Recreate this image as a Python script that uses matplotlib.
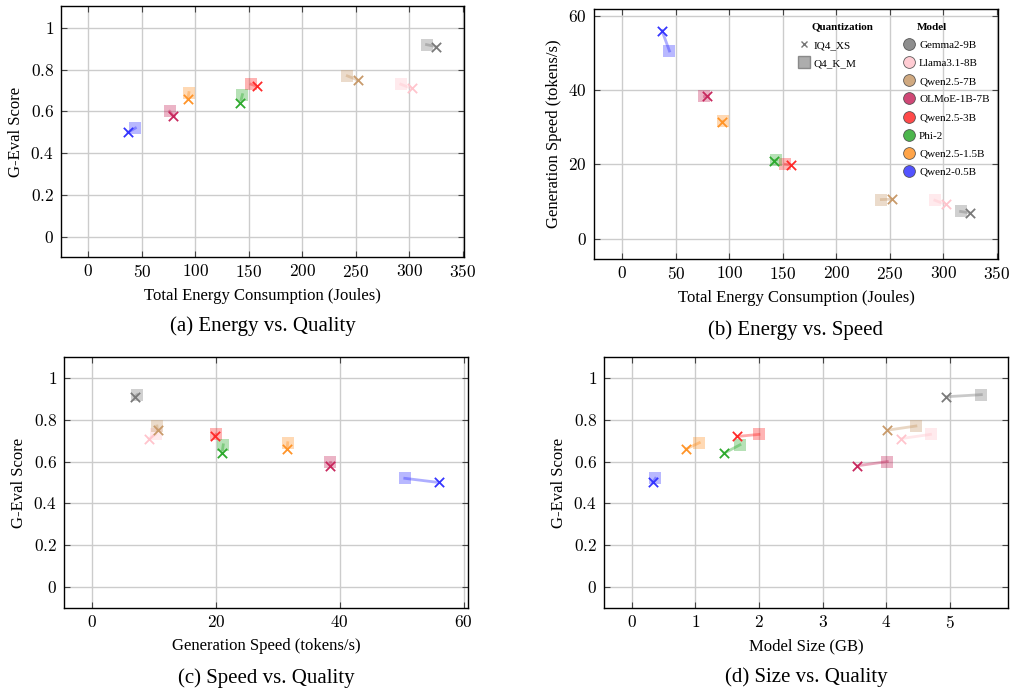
import matplotlib
matplotlib.use("Agg")
import matplotlib.pyplot as plt
from matplotlib.lines import Line2D

plt.rcParams['font.family'] = ['Liberation Serif', 'DejaVu Serif']
plt.rcParams['mathtext.fontset'] = 'cm'

models = ["Gemma2-9B", "Llama3.1-8B", "Qwen2.5-7B", "OLMoE-1B-7B",
          "Qwen2.5-3B", "Phi-2", "Qwen2.5-1.5B", "Qwen2-0.5B"]
colors = ["#7a7a7a", "#ffc4cc", "#c89a6a", "#c8285e",
          "#ff2a2a", "#2eaa2e", "#ff9428", "#3535ff"]

# IQ4_XS values
energy_xs = [325, 302, 252, 79, 158, 142, 93, 37]
speed_xs = [6.9, 9.2, 10.6, 38.5, 19.8, 21.0, 31.5, 56.0]
quality_xs = [0.91, 0.71, 0.75, 0.58, 0.72, 0.64, 0.66, 0.50]
size_xs = [4.95, 4.24, 4.02, 3.55, 1.65, 1.45, 0.85, 0.33]

# Q4_K_M values
energy_km = [316, 292, 242, 76, 152, 144, 94, 44]
speed_km = [7.3, 10.3, 10.5, 38.5, 20.0, 21.2, 31.6, 50.5]
quality_km = [0.92, 0.73, 0.77, 0.60, 0.73, 0.68, 0.69, 0.52]
size_km = [5.50, 4.70, 4.47, 4.02, 2.00, 1.70, 1.06, 0.37]

fig = plt.figure(figsize=(10.16, 6.95), dpi=100)
W, H = 1016, 695


def add_axes(l, r, t, b):
    return fig.add_axes([l / W, 1 - b / H, (r - l) / W, (b - t) / H])


def style(ax, xticks, yticks, xlim, ylim, xlabel, ylabel, caption, cap_y):
    ax.set_xlim(*xlim)
    ax.set_ylim(*ylim)
    ax.set_xticks(xticks)
    ax.set_yticks(yticks)
    ax.set_xticklabels(["$%g$" % v for v in xticks], fontsize=12.5)
    ax.set_yticklabels(["$%g$" % v for v in yticks], fontsize=12.5)
    ax.grid(True, color="#cccccc", linewidth=1.0)
    ax.set_axisbelow(True)
    ax.tick_params(direction="in", length=4, width=0.8, color="#444444",
                   top=True, right=True, pad=5)
    for sp in ax.spines.values():
        sp.set_linewidth(1.0)
    ax.set_xlabel(xlabel, fontsize=12, labelpad=5)
    ax.set_ylabel(ylabel, fontsize=12, labelpad=5)
    pos = ax.get_position()
    fig.text(pos.x0 + pos.width / 2, cap_y, caption, ha="center",
             va="center", fontsize=15)


def draw(ax, x_xs, y_xs, x_km, y_km):
    for i in range(len(models)):
        ax.plot([x_km[i], x_xs[i]], [y_km[i], y_xs[i]], color=colors[i],
                alpha=0.4, linewidth=2, zorder=2)
        ax.scatter(x_km[i], y_km[i], marker="s", s=65, color=colors[i],
                   alpha=0.35, linewidths=0, zorder=3)
        ax.scatter(x_xs[i], y_xs[i], marker="x", s=45, color=colors[i],
                   linewidths=1.3, zorder=4)


# (a) Energy vs. Quality
ax = add_axes(61, 464, 6, 257)
draw(ax, energy_xs, quality_xs, energy_km, quality_km)
style(ax, [0, 50, 100, 150, 200, 250, 300, 350], [0, 0.2, 0.4, 0.6, 0.8, 1],
      (-25.5, 351), (-0.098, 1.105), "Total Energy Consumption (Joules)",
      "G-Eval Score", "(a) Energy vs. Quality", 1 - 326 / H)

# (b) Energy vs. Speed
ax = add_axes(594, 998, 9, 259)
draw(ax, energy_xs, speed_xs, energy_km, speed_km)
style(ax, [0, 50, 100, 150, 200, 250, 300, 350], [0, 20, 40, 60],
      (-26.5, 351), (-5.5, 61.8), "Total Energy Consumption (Joules)",
      "Generation Speed (tokens/s)", "(b) Energy vs. Speed", 1 - 330 / H)

quant_handles = [
    Line2D([], [], marker="x", linestyle="none", color="#777777",
           markersize=4.5, markeredgewidth=1.0, label="IQ4_XS"),
    Line2D([], [], marker="s", linestyle="none", color="#999999",
           markeredgecolor="#777777", markersize=8, alpha=0.8, label="Q4_K_M"),
]
model_handles = [
    Line2D([], [], marker="o", linestyle="none", markerfacecolor=c,
           markeredgecolor="#444444", markeredgewidth=0.6, markersize=8.5,
           alpha=0.85, label=m)
    for m, c in zip(models, colors)
]
ax.text((812 - 594) / 404, 1 - (27 - 9) / 250, "Quantization",
        transform=ax.transAxes, fontsize=8, fontweight="bold",
        ha="left", va="center")
ax.text((917 - 594) / 404, 1 - (27 - 9) / 250, "Model",
        transform=ax.transAxes, fontsize=8, fontweight="bold",
        ha="left", va="center")
leg1 = ax.legend(handles=quant_handles, frameon=False, fontsize=8,
                 loc="upper left", bbox_to_anchor=(0.495, 0.893),
                 handletextpad=0.4, labelspacing=0.75, handlelength=1.0,
                 borderaxespad=0)
ax.add_artist(leg1)
ax.legend(handles=model_handles, frameon=False, fontsize=8,
          loc="upper left", bbox_to_anchor=(0.755, 0.893),
          handletextpad=0.4, labelspacing=0.75, handlelength=1.0,
          borderaxespad=0)

# (c) Speed vs. Quality
ax = add_axes(64, 468, 357, 608)
draw(ax, speed_xs, quality_xs, speed_km, quality_km)
style(ax, [0, 20, 40, 60], [0, 0.2, 0.4, 0.6, 0.8, 1],
      (-4.5, 60.7), (-0.1, 1.1), "Generation Speed (tokens/s)",
      "G-Eval Score", "(c) Speed vs. Quality", 1 - 678 / H)

# (d) Size vs. Quality
ax = add_axes(604, 1008, 357, 608)
draw(ax, size_xs, quality_xs, size_km, quality_km)
style(ax, [0, 1, 2, 3, 4, 5], [0, 0.2, 0.4, 0.6, 0.8, 1],
      (-0.44, 5.92), (-0.1, 1.1), "Model Size (GB)",
      "G-Eval Score", "(d) Size vs. Quality", 1 - 677 / H)

fig.savefig("out.png", dpi=100)
